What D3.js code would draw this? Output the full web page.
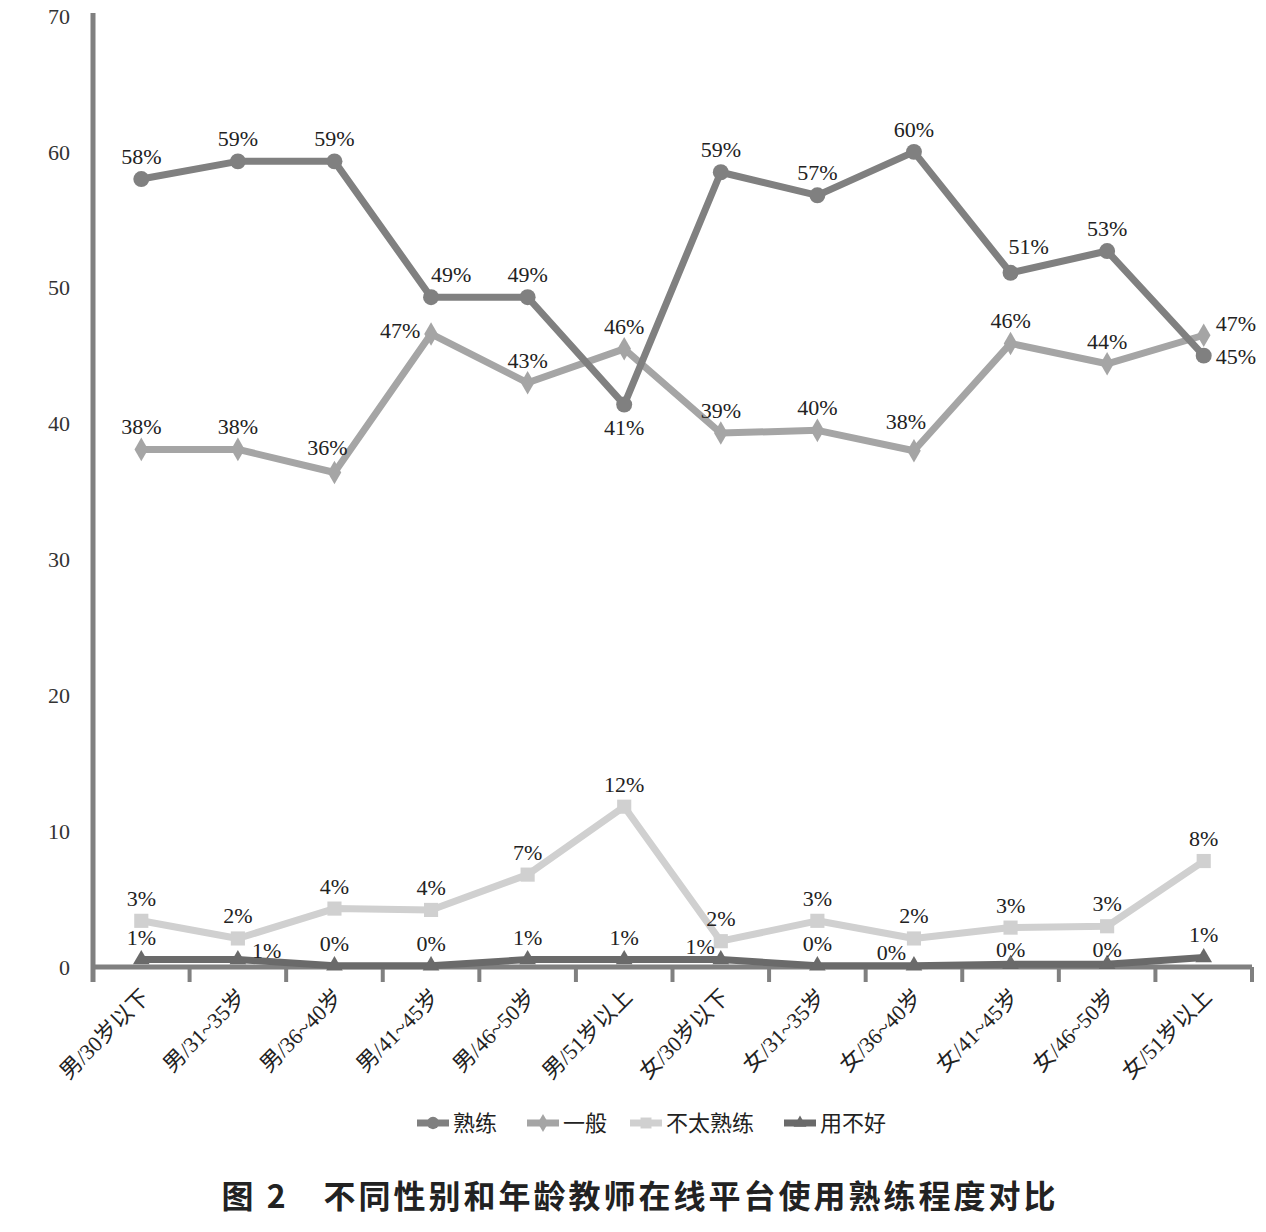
<!DOCTYPE html>
<html><head><meta charset="utf-8">
<script src="https://cdn.jsdelivr.net/npm/d3@7"></script>
<style>
html,body{margin:0;padding:0;background:#fff;}
svg{display:block;}
</style></head>
<body>
<svg id="chart" width="1266" height="1232"></svg>
<script>
const categories = ["男/30岁以下","男/31~35岁","男/36~40岁","男/41~45岁","男/46~50岁","男/51岁以上","女/30岁以下","女/31~35岁","女/36~40岁","女/41~45岁","女/46~50岁","女/51岁以上"];
const seriesNames = ["熟练","一般","不太熟练","用不好"];
const shuLian   = [58.0, 59.3, 59.3, 49.3, 49.3, 41.4, 58.5, 56.8, 60.0, 51.1, 52.7, 45.0];
const yiBan     = [38.1, 38.1, 36.4, 46.6, 43.0, 45.5, 39.3, 39.5, 38.0, 45.9, 44.4, 46.5];
const buTaiShu  = [3.4, 2.1, 4.3, 4.2, 6.8, 11.8, 1.9, 3.4, 2.1, 2.9, 3.0, 7.8];
const yongBuHao = [0.55, 0.55, 0.1, 0.1, 0.55, 0.55, 0.55, 0.1, 0.1, 0.2, 0.2, 0.7];
const yTicks = [0, 10, 20, 30, 40, 50, 60, 70];
const titleText = "图 2　不同性别和年龄教师在线平台使用熟练程度对比";

const seriesValues = [shuLian, yiBan, buTaiShu, yongBuHao];
const colors = ["#808080", "#a5a5a5", "#d0d0d0", "#6a6a6a"];
const markers = [d3.symbolCircle, d3.symbolDiamond, d3.symbolSquare, d3.symbolTriangle];
const markerSizes = [200, 160, 200, 120];

// label placement overrides: "seriesIndex-categoryIndex" -> {dx, dy, anchor}
const overrides = {
  "0-3": {dx: 20, dy: -15, anchor: "middle"},
  "0-5": {dx: 0, dy: 30, anchor: "middle"},
  "0-9": {dx: 18, dy: -19, anchor: "middle"},
  "0-11": {dx: 12, dy: 8, anchor: "start"},
  "1-2": {dx: -7, dy: -17, anchor: "middle"},
  "1-3": {dx: -31, dy: 4, anchor: "middle"},
  "1-8": {dx: -8, dy: -22, anchor: "middle"},
  "1-11": {dx: 12, dy: -4, anchor: "start"},
  "3-1": {dx: 14, dy: -2, anchor: "start"},
  "3-6": {dx: -6, dy: -6, anchor: "end"},
  "3-8": {dx: -8, dy: -6, anchor: "end"},
  "3-9": {dx: 0, dy: -7, anchor: "middle"},
  "3-10": {dx: 0, dy: -7, anchor: "middle"}
};

const svg = d3.select("#chart");
const pL = 93, pR = 1252, pT = 16, pB = 967;
const x = d3.scaleBand().domain(categories).range([pL, pR]);
const y = d3.scaleLinear().domain([0, 70]).range([pB, pT]);
const axisColor = "#808080";
const serif = "'Liberation Serif','Noto Sans CJK SC',serif";

// y axis
svg.append("line").attr("x1", pL).attr("x2", pL).attr("y1", 13).attr("y2", pB + 15)
  .attr("stroke", axisColor).attr("stroke-width", 5);
svg.append("g").selectAll("text").data(yTicks).join("text")
  .attr("x", 70).attr("y", d => y(d)).attr("dy", "0.35em")
  .attr("text-anchor", "end").attr("font-family", serif).attr("font-size", 22).attr("fill", "#333")
  .text(d => d);

// x axis
svg.append("line").attr("x1", pL).attr("x2", pR).attr("y1", pB).attr("y2", pB)
  .attr("stroke", axisColor).attr("stroke-width", 5);
const boundaries = categories.map(c => x(c)).concat([pR]);
svg.append("g").selectAll("line").data(boundaries).join("line")
  .attr("x1", d => d).attr("x2", d => d).attr("y1", pB).attr("y2", pB + 15)
  .attr("stroke", axisColor).attr("stroke-width", 4);
svg.append("g").selectAll("text").data(categories).join("text")
  .attr("transform", d => `translate(${x(d) + x.bandwidth()/2 + 4},${pB + 26}) rotate(-45)`)
  .attr("text-anchor", "end").attr("dy", "0.35em")
  .attr("font-family", serif).attr("font-size", 22).attr("fill", "#222")
  .text(d => d);

const cx = d => x(d) + x.bandwidth() / 2;
const line = d3.line().x((d, i) => cx(categories[i])).y(d => y(d));

const order = [2, 1, 0, 3];
order.forEach(s => {
  const vals = seriesValues[s];
  const g = svg.append("g");
  g.append("path").attr("d", line(vals)).attr("fill", "none")
    .attr("stroke", colors[s]).attr("stroke-width", 7).attr("stroke-linejoin", "round");
  g.selectAll("path.m").data(vals).join("path").attr("class", "m")
    .attr("transform", (d, i) => `translate(${cx(categories[i])},${y(d)})`)
    .attr("d", d3.symbol().type(markers[s]).size(markerSizes[s]))
    .attr("fill", colors[s]);
});
// labels
seriesValues.forEach((vals, s) => {
  svg.append("g").selectAll("text").data(vals).join("text")
    .each(function(d, i) {
      const o = overrides[s + "-" + i] || {dx: 0, dy: -15, anchor: "middle"};
      d3.select(this).attr("x", cx(categories[i]) + o.dx).attr("y", y(d) + o.dy)
        .attr("text-anchor", o.anchor);
    })
    .attr("font-family", serif).attr("font-size", 22).attr("fill", "#222")
    .text(d => Math.round(d) + "%");
});

// legend
const legendX = [417, 527, 630, 784];
const lg = svg.append("g");
seriesNames.forEach((n, s) => {
  const lx = legendX[s], ly = 1123;
  lg.append("line").attr("x1", lx).attr("x2", lx + 32).attr("y1", ly).attr("y2", ly)
    .attr("stroke", colors[s]).attr("stroke-width", 7);
  lg.append("path").attr("transform", `translate(${lx + 16},${ly})`)
    .attr("d", d3.symbol().type(markers[s]).size(markerSizes[s] * 0.6)).attr("fill", colors[s]);
  lg.append("text").attr("x", lx + 36).attr("y", ly).attr("dy", "0.35em")
    .attr("font-family", serif).attr("font-size", 22).attr("fill", "#222").text(n);
});

// title
svg.append("text").attr("x", 640).attr("y", 1197).attr("dy", "0.35em").attr("text-anchor", "middle")
  .attr("font-family", "'Noto Sans CJK SC',sans-serif").attr("font-weight", "bold")
  .attr("font-size", 32).attr("letter-spacing", 3).attr("fill", "#222").text(titleText);
</script>
</body></html>
